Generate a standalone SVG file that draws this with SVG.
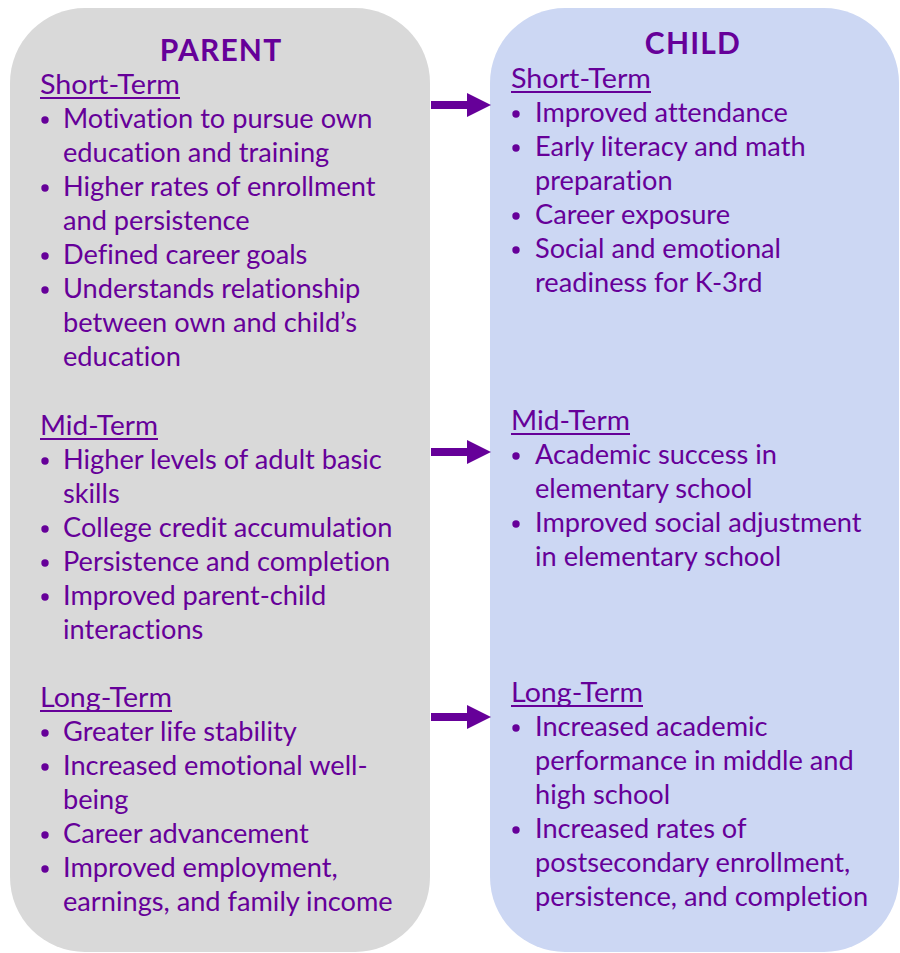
<svg xmlns="http://www.w3.org/2000/svg" width="900" height="953" viewBox="0 0 900 953">
<defs>
<style>
.t{font-family:Lato,"Liberation Sans",sans-serif;font-size:27.2px;fill:#660099;font-variant-ligatures:none}
.h{font-family:Lato,"Liberation Sans",sans-serif;font-size:30px;font-weight:bold;fill:#660099;text-anchor:middle;letter-spacing:1.2px}
.u{stroke:#660099;stroke-width:2}
.b{fill:#660099}
.c{stroke:#660099;stroke-width:8;fill:none}
</style>
<marker id="ah" markerUnits="userSpaceOnUse" markerWidth="24" markerHeight="24" refX="0" refY="12" viewBox="0 0 24 24" orient="auto"><path d="M0,0 L24,12 L0,24 z" fill="#660099"/></marker>
</defs>
<rect width="900" height="953" fill="#ffffff"/>
<g id="parent">
<rect x="10" y="8" width="420" height="944" rx="75" ry="75" fill="#d9d9d9"/>
<text class="h" x="221" y="61">PARENT</text>
<text class="t" x="40" y="94" textLength="140" lengthAdjust="spacingAndGlyphs">Short-Term</text><line class="u" x1="40" y1="98" x2="180" y2="98"/>
<circle class="b" cx="45" cy="120" r="3.7"/><text class="t" x="63" y="128">Motivation to pursue own</text>
<text class="t" x="63" y="162">education and training</text>
<circle class="b" cx="45" cy="188" r="3.7"/><text class="t" x="63" y="196">Higher rates of enrollment</text>
<text class="t" x="63" y="230">and persistence</text>
<circle class="b" cx="45" cy="256" r="3.7"/><text class="t" x="63" y="264">Defined career goals</text>
<circle class="b" cx="45" cy="290" r="3.7"/><text class="t" x="63" y="298">Understands relationship</text>
<text class="t" x="63" y="332">between own and child’s</text>
<text class="t" x="63" y="366">education</text>
<text class="t" x="40" y="435" textLength="118" lengthAdjust="spacingAndGlyphs">Mid-Term</text><line class="u" x1="40" y1="439" x2="158" y2="439"/>
<circle class="b" cx="45" cy="461" r="3.7"/><text class="t" x="63" y="469">Higher levels of adult basic</text>
<text class="t" x="63" y="503">skills</text>
<circle class="b" cx="45" cy="529" r="3.7"/><text class="t" x="63" y="537">College credit accumulation</text>
<circle class="b" cx="45" cy="563" r="3.7"/><text class="t" x="63" y="571">Persistence and completion</text>
<circle class="b" cx="45" cy="597" r="3.7"/><text class="t" x="63" y="605">Improved parent-child</text>
<text class="t" x="63" y="639">interactions</text>
<text class="t" x="40" y="707" textLength="132" lengthAdjust="spacingAndGlyphs">Long-Term</text><line class="u" x1="40" y1="711" x2="172" y2="711"/>
<circle class="b" cx="45" cy="733" r="3.7"/><text class="t" x="63" y="741">Greater life stability</text>
<circle class="b" cx="45" cy="767" r="3.7"/><text class="t" x="63" y="775">Increased emotional well-</text>
<text class="t" x="63" y="809">being</text>
<circle class="b" cx="45" cy="835" r="3.7"/><text class="t" x="63" y="843">Career advancement</text>
<circle class="b" cx="45" cy="869" r="3.7"/><text class="t" x="63" y="877">Improved employment,</text>
<text class="t" x="63" y="911">earnings, and family income</text>
</g>
<g id="child">
<rect x="490" y="8" width="409" height="944" rx="75" ry="75" fill="#ccd7f3"/>
<text class="h" x="693" y="54">CHILD</text>
<text class="t" x="511" y="88" textLength="140" lengthAdjust="spacingAndGlyphs">Short-Term</text><line class="u" x1="511" y1="92" x2="651" y2="92"/>
<circle class="b" cx="516" cy="114" r="3.7"/><text class="t" x="535" y="122">Improved attendance</text>
<circle class="b" cx="516" cy="148" r="3.7"/><text class="t" x="535" y="156">Early literacy and math</text>
<text class="t" x="535" y="190">preparation</text>
<circle class="b" cx="516" cy="216" r="3.7"/><text class="t" x="535" y="224">Career exposure</text>
<circle class="b" cx="516" cy="250" r="3.7"/><text class="t" x="535" y="258">Social and emotional</text>
<text class="t" x="535" y="292">readiness for K-3rd</text>
<text class="t" x="511" y="430" textLength="119" lengthAdjust="spacingAndGlyphs">Mid-Term</text><line class="u" x1="511" y1="434" x2="630" y2="434"/>
<circle class="b" cx="516" cy="456" r="3.7"/><text class="t" x="535" y="464">Academic success in</text>
<text class="t" x="535" y="498">elementary school</text>
<circle class="b" cx="516" cy="524" r="3.7"/><text class="t" x="535" y="532">Improved social adjustment</text>
<text class="t" x="535" y="566">in elementary school</text>
<text class="t" x="511" y="702" textLength="132" lengthAdjust="spacingAndGlyphs">Long-Term</text><line class="u" x1="511" y1="706" x2="643" y2="706"/>
<circle class="b" cx="516" cy="728" r="3.7"/><text class="t" x="535" y="736">Increased academic</text>
<text class="t" x="535" y="770">performance in middle and</text>
<text class="t" x="535" y="804">high school</text>
<circle class="b" cx="516" cy="830" r="3.7"/><text class="t" x="535" y="838">Increased rates of</text>
<text class="t" x="535" y="872">postsecondary enrollment,</text>
<text class="t" x="535" y="906">persistence, and completion</text>
</g>
<g id="connectors">
<line class="c" x1="431" y1="105" x2="467" y2="105" marker-end="url(#ah)"/>
<line class="c" x1="431" y1="452" x2="467" y2="452" marker-end="url(#ah)"/>
<line class="c" x1="431" y1="717" x2="467" y2="717" marker-end="url(#ah)"/>
</g>
</svg>
